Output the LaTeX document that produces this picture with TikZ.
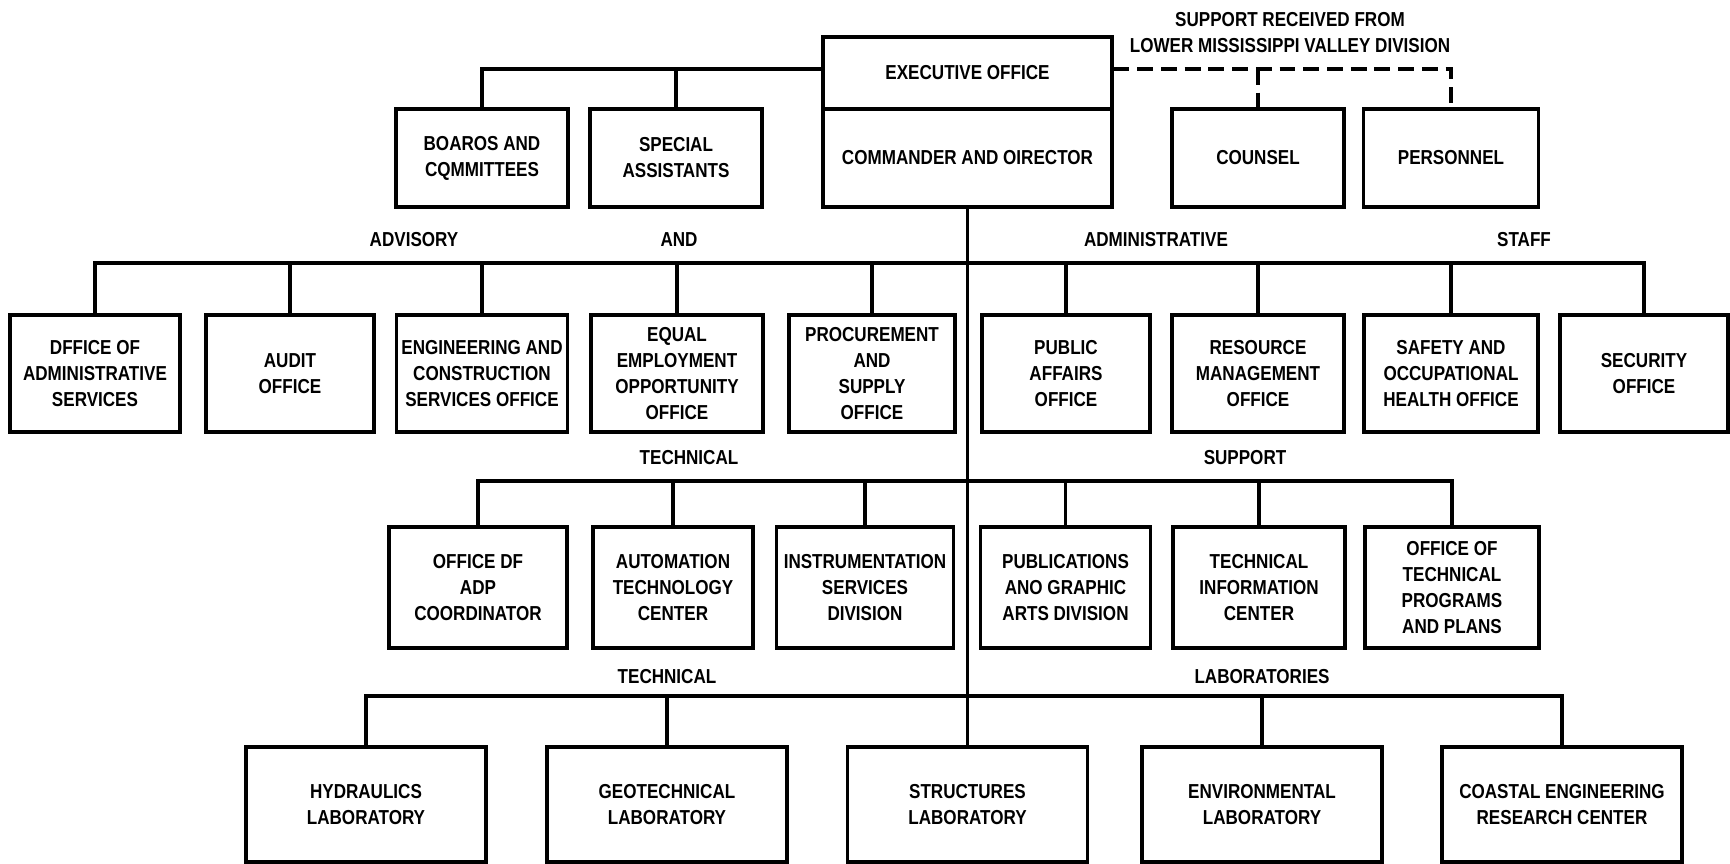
\documentclass[tikz,border=0pt]{standalone}
\usepackage{fontspec}
\setmainfont{Liberation Sans}[FakeStretch=0.845]
\newcommand{\orgtext}{\fontsize{11.5}{14.75}\selectfont\bfseries}

\begin{document}
\begin{tikzpicture}[x=0.02cm, y=-0.02cm,
  box/.style={draw, line width=1.8pt, align=center, inner sep=1pt, font=\orgtext},
  toprow/.style={box, minimum width=3.44cm, minimum height=1.96cm},
  staffbox/.style={box, minimum width=3.4cm, minimum height=2.34cm},
  supportbox/.style={box, minimum width=3.44cm, minimum height=2.42cm},
  labbox/.style={box, minimum width=4.8cm, minimum height=2.3cm},
  grouptext/.style={align=center, inner sep=0pt, font=\orgtext},
  link/.style={line width=1.9pt},
  trunk/.style={line width=1.3pt},
  support/.style={line width=2.2pt, dash pattern=on 9pt off 4.5pt}]
\useasboundingbox (0,0) rectangle (1730,864);

% Executive office and commander
\node[box, minimum width=5.78cm, minimum height=1.44cm] (exec) at (967.5,73) {EXECUTIVE OFFICE};
\node[box, minimum width=5.78cm, minimum height=1.96cm] (cmdr) at (967.5,158) {COMMANDER AND OIRECTOR};
\node[toprow] (boards) at (482,158) {BOAROS AND\\CQMMITTEES};
\node[toprow] (special) at (676,158) {SPECIAL\\ASSISTANTS};
\node[toprow] (counsel) at (1258,158) {COUNSEL};
\node[toprow, minimum width=3.5cm] (personnel) at (1451,158) {PERSONNEL};
\node[grouptext] (lmvd) at (1290,33) {SUPPORT RECEIVED FROM\\LOWER MISSISSIPPI VALLEY DIVISION};

\coordinate (toplvl) at (0,69);
\draw[link] (boards.north) |- (exec.west |- toplvl);
\draw[link] (special.north) -- (special.north |- toplvl);
\draw[support] (exec.east |- toplvl) -- (personnel.north |- toplvl) -- (personnel.north);
\draw[support] (counsel.north |- toplvl) -- (counsel.north);

% Advisory and administrative staff
\node[grouptext] (advisory) at (414,240) {ADVISORY};
\node[grouptext] (andtext) at (679,240) {AND};
\node[grouptext] (admin) at (1156,240) {ADMINISTRATIVE};
\node[grouptext] (staff) at (1524,240) {STAFF};

\node[staffbox] (admsvc) at (95,373.5) {DFFICE OF\\ADMINISTRATIVE\\SERVICES};
\node[staffbox, minimum width=3.36cm] (audit) at (290,373.5) {AUDIT\\OFFICE};
\node[staffbox, minimum width=3.42cm] (engcon) at (482,373.5) {ENGINEERING AND\\CONSTRUCTION\\SERVICES OFFICE};
\node[staffbox, minimum width=3.44cm] (eeo) at (677,373.5) {EQUAL\\EMPLOYMENT\\OPPORTUNITY\\OFFICE};
\node[staffbox, minimum width=3.32cm] (procure) at (872,373.5) {PROCUREMENT\\AND\\SUPPLY\\OFFICE};
\node[staffbox, minimum width=3.36cm] (pubaff) at (1066,373.5) {PUBLIC\\AFFAIRS\\OFFICE};
\node[staffbox, minimum width=3.44cm] (resmgt) at (1258,373.5) {RESOURCE\\MANAGEMENT\\OFFICE};
\node[staffbox, minimum width=3.48cm] (safety) at (1451,373.5) {SAFETY AND\\OCCUPATIONAL\\HEALTH OFFICE};
\node[staffbox, minimum width=3.36cm] (security) at (1644,373.5) {SECURITY\\OFFICE};

\coordinate (bus2) at (0,263);
\draw[link] (admsvc.north) -- (admsvc.north |- bus2) -- (security.north |- bus2) -- (security.north);
\draw[link] (audit.north) -- (audit.north |- bus2);
\draw[link] (engcon.north) -- (engcon.north |- bus2);
\draw[link] (eeo.north) -- (eeo.north |- bus2);
\draw[link] (procure.north) -- (procure.north |- bus2);
\draw[link] (pubaff.north) -- (pubaff.north |- bus2);
\draw[link] (resmgt.north) -- (resmgt.north |- bus2);
\draw[link] (safety.north) -- (safety.north |- bus2);

% Technical support
\node[grouptext] (techsup) at (689,458) {TECHNICAL};
\node[grouptext] (suptext) at (1245,458) {SUPPORT};

\node[supportbox, minimum width=3.56cm] (adp) at (478,587.5) {OFFICE DF\\ADP\\COORDINATOR};
\node[supportbox, minimum width=3.2cm] (autotech) at (673,587.5) {AUTOMATION\\TECHNOLOGY\\CENTER};
\node[supportbox, minimum width=3.54cm] (instr) at (865,587.5) {INSTRUMENTATION\\SERVICES\\DIVISION};
\node[supportbox, minimum width=3.4cm] (pubgraph) at (1065.5,587.5) {PUBLICATIONS\\ANO GRAPHIC\\ARTS DIVISION};
\node[supportbox] (techinfo) at (1259,587.5) {TECHNICAL\\INFORMATION\\CENTER};
\node[supportbox, minimum width=3.48cm] (otpp) at (1452,587.5) {OFFICE OF\\TECHNICAL\\PROGRAMS\\AND PLANS};

\coordinate (bus3) at (0,481);
\draw[link] (adp.north) -- (adp.north |- bus3) -- (otpp.north |- bus3) -- (otpp.north);
\draw[link] (autotech.north) -- (autotech.north |- bus3);
\draw[link] (instr.north) -- (instr.north |- bus3);
\draw[link] (pubgraph.north) -- (pubgraph.north |- bus3);
\draw[link] (techinfo.north) -- (techinfo.north |- bus3);

% Technical laboratories
\node[grouptext] (techlab) at (667,677) {TECHNICAL};
\node[grouptext] (labtext) at (1262,677) {LABORATORIES};

\node[labbox] (hydr) at (366,804.5) {HYDRAULICS\\LABORATORY};
\node[labbox] (geo) at (667,804.5) {GEOTECHNICAL\\LABORATORY};
\node[labbox] (struct) at (967.5,804.5) {STRUCTURES\\LABORATORY};
\node[labbox] (env) at (1262,804.5) {ENVIRONMENTAL\\LABORATORY};
\node[labbox] (coastal) at (1562,804.5) {COASTAL ENGINEERING\\RESEARCH CENTER};

\coordinate (bus4) at (0,696);
\draw[link] (hydr.north) -- (hydr.north |- bus4) -- (coastal.north |- bus4) -- (coastal.north);
\draw[link] (geo.north) -- (geo.north |- bus4);
\draw[link] (env.north) -- (env.north |- bus4);

% main line of command
\draw[trunk] (cmdr.south) -- (struct.north);
\end{tikzpicture}
\end{document}
